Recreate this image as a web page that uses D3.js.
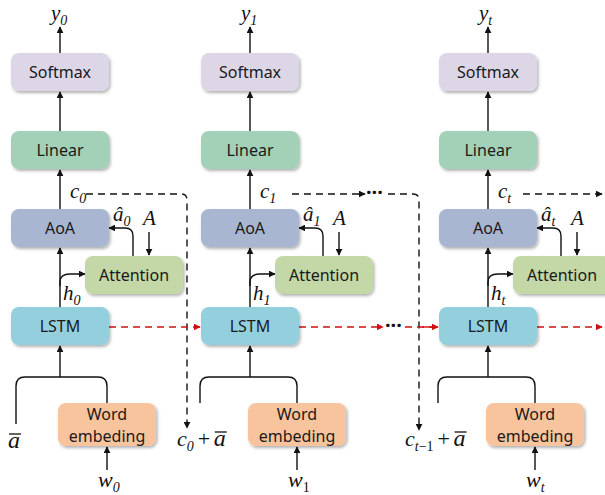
<!DOCTYPE html>
<html>
<head>
<meta charset="utf-8">
<script src="https://cdn.jsdelivr.net/npm/d3@7"></script>
<style>
	body { margin: 0; background: #fff; }
	svg { display: block; }
</style>
</head>
<body>
<svg id="diagram" width="605" height="495"></svg>
<script>
// time steps shown in the unrolled decoder
const STEPS = ['0', '1', 't'];
// stacked blocks of each step, top to bottom
const STACK = ['Softmax', 'Linear', 'AoA', 'LSTM'];
const SIDE_BLOCK = 'Attention';
const INPUT_BLOCK = ['Word', 'embeding'];
// bottom-left inputs of each step: [main, subscript, rest]
const CTX_INPUTS = [['', '', 'a'], ['c', '0', '+a'], ['c', 't\u22121', '+a']];
const WORD_SUBS = ['0', '1', 't'];

const COLORS = {
	Softmax: '#ddd6e7', Linear: '#a2d1b8', AoA: '#a8b6d1',
	Attention: '#c4d7a7', LSTM: '#94cfde', Word: '#f8c49d'
};
const MATH = '"Liberation Serif", "Times New Roman", serif';
const SANS = '"Noto Sans", "Open Sans", sans-serif';

const svg = d3.select('#diagram');

// column centres
const col = d3.scaleOrdinal().domain(STEPS).range([60, 250, 488]);
// rows of the stack (top edge of each box)
const row = d3.scaleOrdinal().domain(STACK).range([53, 131, 209, 307]);
const BOX_W = 98, BOX_H = 38;

/* defs: arrows + shadow */
const defs = svg.append('defs');
function marker(id, color) {
	defs.append('marker')
		.attr('id', id)
		.attr('viewBox', '0 0 10 10')
		.attr('refX', 9).attr('refY', 5)
		.attr('markerWidth', 7).attr('markerHeight', 7)
		.attr('markerUnits', 'userSpaceOnUse')
		.attr('orient', 'auto')
		.append('path').attr('d', 'M0,0 L10,5 L0,10 Z').attr('fill', color);
}
marker('arr', '#111');
marker('arrRed', '#d01010');
const f = defs.append('filter').attr('id', 'shadow')
	.attr('x', '-10%').attr('y', '-10%').attr('width', '130%').attr('height', '140%');
f.append('feDropShadow').attr('dx', 1.5).attr('dy', 2).attr('stdDeviation', 1.5)
	.attr('flood-color', '#000').attr('flood-opacity', 0.3);

function box(x, y, w, h, fill, lines) {
	const g = svg.append('g');
	g.append('rect')
		.attr('x', x).attr('y', y).attr('width', w).attr('height', h)
		.attr('rx', 8).attr('ry', 8)
		.attr('fill', fill).attr('filter', 'url(#shadow)');
	const t = g.append('text')
		.attr('text-anchor', 'middle')
		.attr('font-family', SANS).attr('font-size', 16).attr('fill', '#1a1a1a');
	const lh = 22;
	lines.forEach((l, i) => {
		t.append('tspan')
			.attr('x', x + w / 2)
			.attr('y', y + h / 2 + 6 + (i - (lines.length - 1) / 2) * lh)
			.text(l);
	});
}

function line(d, opts = {}) {
	return svg.append('path')
		.attr('d', d)
		.attr('fill', 'none')
		.attr('stroke', opts.color || '#111')
		.attr('stroke-width', 1.4)
		.attr('stroke-dasharray', opts.dash ? '7,5' : null)
		.attr('marker-end', opts.arrow ? (opts.color ? 'url(#arrRed)' : 'url(#arr)') : null);
}

// math label: base letter (italic) + subscript
function mathLabel(x, y, base, sub, opts = {}) {
	const t = svg.append('text')
		.attr('x', x).attr('y', y)
		.attr('font-family', MATH).attr('font-size', opts.size || 21)
		.attr('font-style', 'italic').attr('fill', '#111');
	t.append('tspan').text(base);
	if (sub) {
		const s = t.append('tspan').attr('dy', 5).attr('font-size', 14);
		if (sub === 't\u22121') {
			s.text('t');
			s.append('tspan').attr('font-style', 'normal').text('\u22121');
		} else if (opts.uprightSub) {
			s.attr('font-style', 'normal').text(sub);
		} else {
			s.text(sub);
		}
	}
	return t;
}

function dots(x, y) {
	svg.append('text')
		.attr('x', x).attr('y', y + 5)
		.attr('font-family', SANS).attr('font-size', 20).attr('font-weight', 'bold')
		.attr('fill', '#111')
		.text('\u00b7\u00b7\u00b7');
}

function overA(x, y) {
	// italic a with a bar on top
	svg.append('text')
		.attr('x', x).attr('y', y)
		.attr('font-family', MATH).attr('font-size', 24)
		.attr('font-style', 'italic').attr('fill', '#111')
		.text('a');
	svg.append('line')
		.attr('x1', x + 1).attr('x2', x + 13)
		.attr('y1', y - 14).attr('y2', y - 14)
		.attr('stroke', '#111').attr('stroke-width', 1.3);
}

/* recurrent connections between columns (drawn first, under boxes) */
// c_0 -> next input
line('M86,194 L181,194 Q187,194 187,200 L187,428', { dash: true, arrow: true });
// c_1 -> ... -> c_{t-1}
line('M292,194 L365,194', { dash: true, arrow: true });
dots(366, 194);
line('M388,194 L413,194 Q419,194 419,200 L419,430', { dash: true, arrow: true });
// c_t ->
line('M523,194 L602,194', { dash: true, arrow: true });

// LSTM hidden state (red)
const lstmY = row('LSTM') + BOX_H / 2 + 1;
line(`M${col('0') + BOX_W / 2},${lstmY} L${col('1') - BOX_W / 2 - 1},${lstmY}`, { dash: true, arrow: true, color: '#d01010' });
line(`M${col('1') + BOX_W / 2},${lstmY} L383,${lstmY}`, { dash: true, arrow: true, color: '#d01010' });
dots(385, lstmY);
line(`M405,${lstmY} L${col('t') - BOX_W / 2 - 1},${lstmY}`, { dash: true, color: '#d01010' });
line(`M422,${lstmY} L${col('t') - BOX_W / 2 - 1},${lstmY}`, { arrow: true, color: '#d01010' });
line(`M${col('t') + BOX_W / 2},${lstmY} L602,${lstmY}`, { dash: true, arrow: true, color: '#d01010' });

STEPS.forEach((s, i) => {
	const cx = col(s);
	const attX = cx + 25, attY = 256;
	const weX = cx - 2, weY = 403, weW = 98, weH = 43;
	const brY = 377;
	const brL = i === 0 ? cx - 44 : cx - 50;
	const brR = weX + weW / 2;

	// vertical flow
	line(`M${cx},${row('Softmax')} L${cx},27`, { arrow: true });
	line(`M${cx},${row('Linear')} L${cx},${row('Softmax') + BOX_H + 1}`, { arrow: true });
	line(`M${cx},${row('AoA')} L${cx},${row('Linear') + BOX_H + 1}`, { arrow: true });
	line(`M${cx},${row('LSTM')} L${cx},${row('AoA') + BOX_H + 1}`, { arrow: true });
	line(`M${cx},${brY} L${cx},${row('LSTM') + BOX_H + 1}`, { arrow: true });

	// h -> Attention
	line(`M${cx},286 L${cx},282 Q${cx},274 ${cx + 10},274 L${attX},274`, { arrow: true });
	// Attention -> AoA (a hat)
	line(`M${cx + 73},${attY} L${cx + 73},236 Q${cx + 73},228 ${cx + 65},228 L${cx + 49},228`, { arrow: true });
	// A -> Attention
	line(`M${cx + 89},232 L${cx + 89},${attY - 1}`, { arrow: true });

	// input bracket
	line(`M${brL},${i === 0 ? 424 : 403} L${brL},${brY + 9} Q${brL},${brY} ${brL + 9},${brY} L${brR - 9},${brY} Q${brR},${brY} ${brR},${brY + 9} L${brR},${weY}`);
	// w -> Word embeding
	line(`M${brR},470 L${brR},${weY + weH + 1}`, { arrow: true });

	STACK.forEach(name => box(cx - BOX_W / 2, row(name), BOX_W, BOX_H, COLORS[name], [name]));
	box(attX, attY, 98, 38, COLORS.Attention, [SIDE_BLOCK]);
	box(weX, weY, weW, weH, COLORS.Word, INPUT_BLOCK);

	// labels
	mathLabel(cx - 9, 20, 'y', s, { size: 21 });
	mathLabel(cx + 10, 198, 'c', s);
	mathLabel(cx + 53, 221, '\u00e2', s);
	mathLabel(cx + 83, 225, 'A', '');
	mathLabel(cx + 3, 300, 'h', s);
	mathLabel(brR - 9, 487, 'w', WORD_SUBS[i], { size: 22, uprightSub: i === 1 });

	// context inputs
	const ci = CTX_INPUTS[i];
	if (i === 0) {
		overA(brL - 8, 448);
	} else {
		const x0 = i === 1 ? 177 : 405;
		const t = mathLabel(x0, 446, ci[0], ci[1], { size: 22 });
		const w = t.node().getComputedTextLength();
		svg.append('text')
			.attr('x', x0 + w + 4).attr('y', 446)
			.attr('font-family', MATH).attr('font-size', 22).attr('fill', '#111')
			.text('+');
		overA(x0 + w + 20, 446);
	}
});
</script>
</body>
</html>
